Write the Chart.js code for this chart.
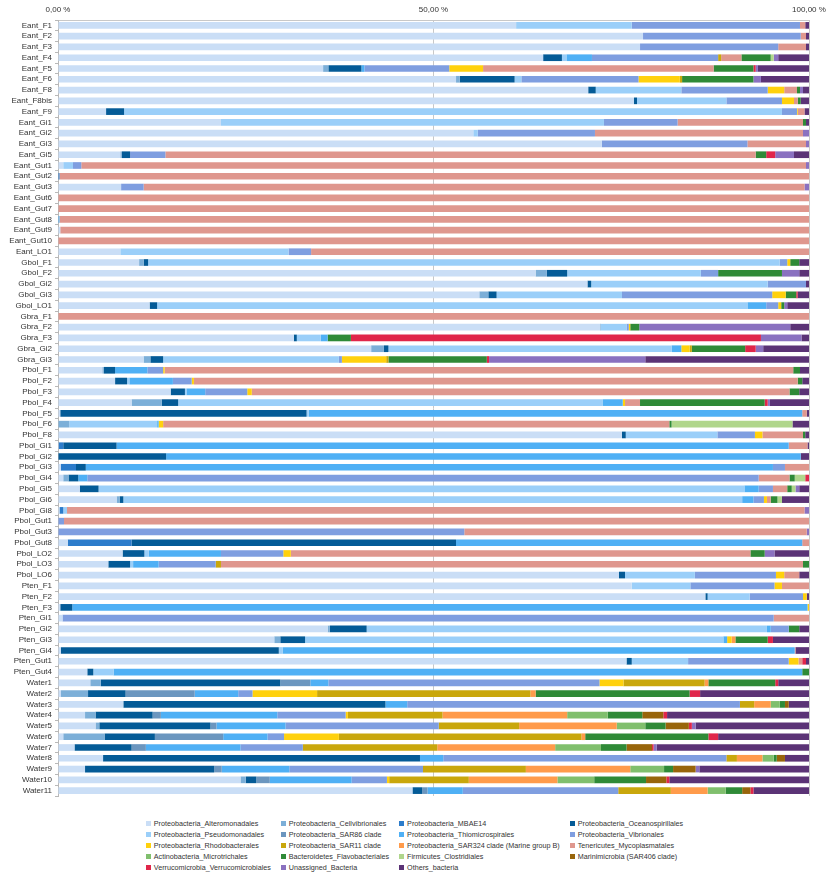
<!DOCTYPE html>
<html><head><meta charset="utf-8">
<script src="https://cdn.jsdelivr.net/npm/chart.js@4/dist/chart.umd.min.js"></script>
<style>
html,body{margin:0;padding:0;background:#fff;}
#wrap{position:relative;width:827px;height:873px;overflow:hidden;}
#legend{position:absolute;left:0;top:818px;width:827px;display:flex;justify-content:center;}
#lg{display:grid;grid-template-columns:auto auto auto auto;column-gap:10px;margin-left:2px;}
.item{font-family:"Liberation Sans",Arial,sans-serif;font-size:7.2px;color:#333;height:11px;line-height:11px;white-space:nowrap;display:flex;align-items:center;}
.sw{width:5px;height:5px;margin-right:3px;flex:none;}
</style></head>
<body><div id="wrap"><canvas id="c" width="827" height="810"></canvas><div id="legend"><div id="lg"></div></div></div>
<script>
const categories = ["Eant_F1","Eant_F2","Eant_F3","Eant_F4","Eant_F5","Eant_F6","Eant_F8","Eant_F8bis","Eant_F9","Eant_Gi1",
"Eant_Gi2","Eant_Gi3","Eant_Gi5","Eant_Gut1","Eant_Gut2","Eant_Gut3","Eant_Gut6","Eant_Gut7","Eant_Gut8","Eant_Gut9",
"Eant_Gut10","Eant_LO1","Gbol_F1","Gbol_F2","Gbol_Gi2","Gbol_Gi3","Gbol_LO1","Gbra_F1","Gbra_F2","Gbra_F3",
"Gbra_Gi2","Gbra_Gi3","Pbol_F1","Pbol_F2","Pbol_F3","Pbol_F4","Pbol_F5","Pbol_F6","Pbol_F8","Pbol_Gi1",
"Pbol_Gi2","Pbol_Gi3","Pbol_Gi4","Pbol_Gi5","Pbol_Gi6","Pbol_Gi8","Pbol_Gut1","Pbol_Gut3","Pbol_Gut8","Pbol_LO2",
"Pbol_LO3","Pbol_LO6","Pten_F1","Pten_F2","Pten_F3","Pten_Gi1","Pten_Gi2","Pten_Gi3","Pten_Gi4","Pten_Gut1",
"Pten_Gut4","Water1","Water2","Water3","Water4","Water5","Water6","Water7","Water8","Water9",
"Water10","Water11"];

const xTicks = [0, 50, 100];

const alteromonadales = [61.0,77.9,77.5,64.6,35.3,53.0,70.6,76.7,6.4,21.7,
55.3,72.4,8.3,0.7,0,8.4,0,0,0,0.3,
0,8.3,10.8,63.6,70.5,56.1,12.2,0,72.2,31.4,
41.7,11.4,5.9,7.6,15.0,9.8,0.3,0,75.1,0.1,
0,0.4,0.7,2.9,7.8,0.2,0,0,1.3,8.6,
6.7,74.7,76.4,86.2,0.3,0.6,35.9,28.8,0.4,75.7,
3.9,4.3,0.4,8.7,3.6,5.0,0.7,2.2,6.0,3.6,
24.3,47.2];
const cellvibrionales = [0,0,0,0,0.7,0.5,0,0,0,0,
0,0,0.2,0,0,0,0,0,0,0,
0,0,0.6,1.5,0,1.2,0,0,0.1,0,
1.7,0.9,0.2,0,0,4.0,0,1.5,0,0,
0,0,0.7,0,0.4,0,0,0,0,0,
0,0,0,0,0,0,0.3,0.8,0,0,
0,1.4,3.6,0,1.4,0.5,5.5,0,0,0,
0.7,0];
const mbae14 = [0,0,0,0,0,0,0,0,0,0,
0,0,0,0,0.2,0,0,0,0,0,
0,0,0,0,0,0,0,0,0,0,
0,0,0,0,0,0,0,0,0,0.6,
0,2.0,0,0,0,0.5,0,0,8.5,0,
0,0,0,0,0,0,0,0,0,0,
0,0,0,0,0,0,0,0,0,0,
0,0];
const oceanospirillales = [0,0,0,2.5,4.4,7.3,1.0,0.4,2.4,0,
0,0,1.1,0,0,0,0,0,0,0,
0,0,0.6,2.7,0.5,1.1,1.0,0,0,0.4,
0.6,1.7,1.5,1.6,1.9,2.2,32.8,0,0.5,7.1,
14.4,1.3,1.3,2.5,0.5,0,0,0,43.2,2.9,
2.9,0.8,0,0.3,1.6,0,4.9,3.3,29.0,0.7,
0.8,23.9,5.0,34.9,7.6,14.8,6.7,7.6,42.2,17.2,
1.4,1.3];
const pseudomonadales = [15.4,0,0,0.6,0,0.9,11.4,11.9,87.6,51.0,
0.6,0,0,1.3,0,0,0,0,0,0,
0,22.4,84.1,17.8,23.5,16.7,78.6,0,3.4,3.2,
37.7,23.4,0,0.3,0.2,56.5,0.3,11.7,12.2,0,
0,0,0,86.0,82.4,0.5,0,0,0,0.6,
0.4,9.3,7.8,5.6,0,0,53.3,55.7,0.5,7.5,
2.7,0,0,0,0,0,0,0,0,0,
0,0];
const sar86 = [0,0,0,0,0,0,0,0,0,0,
0,0,0,0,0,0,0,0,0,0,
0,0,0,0,0,0,0,0,0,0,
0,0,0,0,0,0,0,0,0,0,
0,0,0,0,0,0,0,0,0,0,
0,0,0,0,0,0,0,0,0,0,
0,4.0,9.2,0,1.1,0.8,9.1,1.9,0,1.0,
1.8,0.7];
const thiomicrospirales = [0,0,0,3.4,0.4,0,0,0,0,0,
0,0,0,0,0,0,0,0,0.2,0,
0,0,0,0,0,0,2.5,0,0,0.9,
1.3,0,4.3,5.8,2.5,2.7,65.7,0.2,0,89.5,
84.5,91.5,1.2,1.9,1.5,0,0,0,46.1,9.6,
3.4,0,0,0,97.9,0,0.5,0.5,68.2,0,
91.7,2.4,5.8,2.9,15.5,9.2,5.9,12.6,3.1,9.0,
10.9,4.7];
const vibrionales = [22.4,21.0,18.4,16.8,11.3,15.6,11.5,7.4,2.0,9.8,
15.6,19.4,4.7,1.1,0,3.0,0,0,0,0,
0,3.0,1.0,2.3,5.1,20.0,1.6,0,0.3,0,
0,0.4,2.1,2.5,5.6,0,0,0,5.0,0,
0,1.6,89.4,1.9,1.4,0,0.8,54.1,0,8.3,
7.6,10.8,11.2,7.1,0,94.7,2.4,0,0,13.4,
0,36.1,1.9,44.3,9.1,20.4,2.2,8.3,37.7,17.8,
4.7,20.7];
const rhodobacterales = [0,0,0,0,4.5,5.5,2.2,1.6,0.1,0,
0,0,0,0,0,0,0,0,0,0,
0,0,0.4,0,0,1.8,0.4,0,0.2,0,
1.1,5.9,0.2,0.3,0.6,0.3,0,0.6,1.0,0,
0,0,0,0,0.4,0,0,0,0,1.0,
0,1.1,1.0,0.5,0.2,0,0,0.6,0,1.3,
0,3.2,8.6,0,0.3,0,7.3,0,0,0,
0.3,0];
const sar11 = [0,0,0,0.4,0,0.3,0,0,0,0,
0,0,0,0,0,0,0,0,0,0,
0,0,0,0,0,0,0,0,0,0,
0.3,0.3,0,0,0,0,0,0,0,0,
0,0,0,0,0,0,0,0,0,0,
0.7,0,0,0,0,0,0,0,0,0,
0,10.8,28.4,1.9,12.6,10.7,32.3,17.9,1.4,13.7,
10.6,7.0];
const sar324 = [0,0,0,0,0,0,0,0,0,0,
0,0,0,0,0,0,0,0,0,0,
0,0,0,0,0,0,0,0,0,0,
0,0,0,0,0,0,0,0,0,0,
0,0,0,0,0,0,0,0,0,0,
0,0,0,0,0,0,0,0.5,0,0,
0,0.5,0.7,2.2,16.6,13.0,0.5,15.7,3.4,13.9,
11.8,4.9];
const mycoplasmatales = [0.7,0.7,3.7,2.7,30.7,0,1.7,0.5,0.9,16.7,
27.7,7.8,78.6,96.5,99.8,88.0,100,100,99.8,99.7,
100,66.3,0,0,0,0,0,100,0,0,
0,0,83.7,80.4,71.6,2.0,0.6,67.4,5.4,2.5,
0,3.2,4.1,1.9,0.5,98.2,99.2,45.6,0.9,61.2,
77.5,2.0,3.6,0,0,4.7,0,0,0.1,0.5,
0,0,0,0,0,0,0,0,0,0,
0,0];
const microtrichales = [0,0,0,0,0,0,0,0,0,0,
0,0,0,0,0,0,0,0,0,0,
0,0,0,0,0,0,0,0,0,0,
0,0,0,0,0,0,0,0,0,0,
0,0,0,0,0,0,0,0,0,0,
0,0,0,0,0,0,0,0,0,0,
0,0,0,1.2,5.4,3.8,0,6.1,1.5,4.5,
4.9,2.4];
const flavobacteriales = [0,0,0,3.9,5.3,9.5,0.4,0.4,0,0.4,
0,0,1.4,0,0,0,0,0,0,0,
0,0,1.2,8.5,0,1.4,0.4,0,1.2,3.1,
7.1,13.1,0.9,0.6,1.3,16.6,0,0.3,0.3,0,
0,0,0.7,0.6,0.9,0,0,0,0,1.9,
0.8,0,0,0,0,0,1.4,4.3,0,0,
0.9,8.9,20.5,0.7,4.6,2.7,16.4,3.4,0.4,1.2,
6.9,2.2];
const clostridiales = [0,0,0,0.4,0,0,0,0,0,0,
0,0,0,0,0,0,0,0,0,0,
0,0,0,0,0,0,0,0,0,0,
0,0,0,0,0,0,0,16.1,0,0,
0,0,1.4,0.5,0.6,0,0,0,0,0,
0,0,0,0,0,0,0,0,0,0,
0,0,0,0,0,0,0,0,0,0,
0,0];
const marinimicrobia = [0,0,0,0,0,0,0,0,0,0,
0,0,0,0,0,0,0,0,0,0,
0,0,0,0,0,0,0,0,0,0,
0,0,0,0,0,0,0,0,0,0,
0,0,0,0,0,0,0,0,0,0,
0,0,0,0,0,0,0,0,0,0,
0,0,0,0.5,2.8,3.1,0,3.4,1.1,3.0,
2.7,1.1];
const verrucomicrobiales = [0,0,0,0,0.3,0,0,0,0,0,
0,0,1.2,0,0,0,0,0,0,0,
0,0,0,0,0,0.2,0,0,0,54.6,
1.4,0.3,0,0,0,0.4,0,0,0,0,
0,0,0.5,0,0,0,0,0,0,0,
0,0,0,0,0,0,0,0.7,0,0.5,
0,0.4,1.4,0,0.5,0.4,1.3,0.2,0,0,
0.4,0.4];
const unassigned = [0,0,0,0.6,0.3,1.0,0.4,0,0,0,
0.8,0.4,2.5,0.4,0,0.6,0,0,0,0,
0,0,0,2.3,0,0,0.4,0,20.1,5.4,
1.0,20.8,0,0,0,0.3,0,0,0,0,
0,0,0,0.5,0,0.6,0,0.3,0,1.3,
0,0,0,0,0,0,0,0,0,0,
0,0,0,0,0,0.5,0,0.4,0,0.5,
0,0];
const others = [0.5,0.4,0.4,4.1,6.8,6.4,0.8,1.1,0.6,0.4,
0,0,2.0,0,0,0,0,0,0,0,
0,0,1.3,1.3,0.4,1.5,2.9,0,2.5,1.0,
6.1,21.8,1.2,0.9,1.3,5.2,0.3,2.2,0.5,0.2,
1.1,0,0,1.3,3.6,0,0,0,0,4.6,
0,1.3,0,0.3,0,0,1.3,4.8,1.8,0.4,
0,4.1,14.5,2.7,18.9,15.1,12.1,20.3,3.2,14.6,
18.6,7.4];

const seriesNames = ["Proteobacteria_Alteromonadales","Proteobacteria_Cellvibrionales","Proteobacteria_MBAE14","Proteobacteria_Oceanospirillales",
"Proteobacteria_Pseudomonadales","Proteobacteria_SAR86 clade","Proteobacteria_Thiomicrospirales","Proteobacteria_Vibrionales",
"Proteobacteria_Rhodobacterales","Proteobacteria_SAR11 clade","Proteobacteria_SAR324 clade (Marine group B)","Tenericutes_Mycoplasmatales",
"Actinobacteria_Microtrichales","Bacteroidetes_Flavobacteriales","Firmicutes_Clostridiales","Marinimicrobia (SAR406 clade)",
"Verrucomicrobia_Verrucomicrobiales","Unassigned_Bacteria","Others_bacteria"];
const seriesValues = [alteromonadales,cellvibrionales,mbae14,oceanospirillales,pseudomonadales,sar86,thiomicrospirales,vibrionales,
rhodobacterales,sar11,sar324,mycoplasmatales,microtrichales,flavobacteriales,clostridiales,marinimicrobia,verrucomicrobiales,unassigned,others];
const seriesColors = ["#cadef6","#7cafd8","#2c7ccb","#045b97","#9bcff9","#6b96bf","#4fb0f5","#7f9ee0",
"#ffd10d","#c9a70c","#ff9b4b","#df978e","#80bf6d","#2f8a37","#b0d68c","#98650b","#e0264a","#8a71c0","#5b3376"];

const FONT = {family:'"Liberation Sans", Arial, sans-serif', size:8};

new Chart(document.getElementById('c'), {
  type:'bar',
  data:{
    labels:categories,
    datasets:seriesValues.map((v,i)=>({label:seriesNames[i],data:v,backgroundColor:seriesColors[i],borderWidth:0,
      barPercentage:0.62,categoryPercentage:1.0}))
  },
  options:{
    indexAxis:'y',responsive:false,animation:false,devicePixelRatio:1,
    layout:{padding:{left:0,right:18,top:0,bottom:14}},
    plugins:{legend:{display:false},tooltip:{enabled:false}},
    scales:{
      x:{position:'top',stacked:true,min:0,max:100,
        afterBuildTicks:(s)=>{s.ticks = xTicks.map(v=>({value:v}));},
        afterFit:(s)=>{s.height=20;s.paddingRight=0;s.paddingLeft=0;},
        ticks:{font:FONT,color:'#333',padding:5,maxRotation:0,
          callback:(v)=>v.toFixed(2).replace('.',',')+' %'},
        grid:{color:'#c8c8c8',drawTicks:false,lineWidth:1},
        border:{display:true,color:'#c8c8c8'}},
      y:{stacked:true,
        afterFit:(s)=>{s.width=58;},
        ticks:{font:FONT,color:'#333',padding:3,autoSkip:false},
        grid:{drawOnChartArea:false,color:'#b8b8b8',tickLength:3,offset:true},
        border:{display:true,color:'#b8b8b8'}}
    }
  }
});

const lg = document.getElementById('lg');
seriesNames.forEach((n,i)=>{
  const d=document.createElement('div');d.className='item';
  const s=document.createElement('span');s.className='sw';s.style.background=seriesColors[i];
  const t=document.createElement('span');t.textContent=n;
  d.appendChild(s);d.appendChild(t);lg.appendChild(d);
});
</script>
</body></html>
